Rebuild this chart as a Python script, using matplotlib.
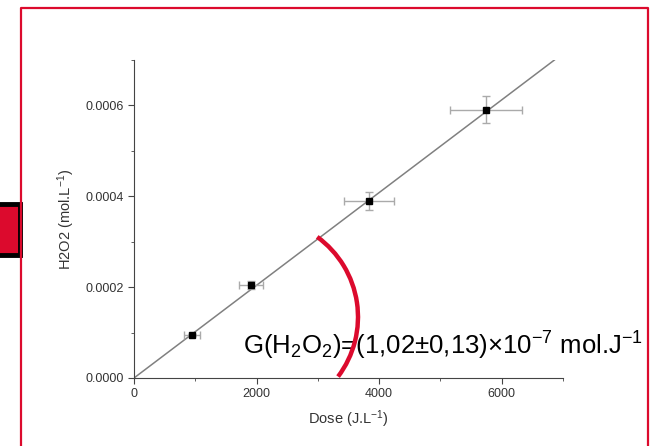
import matplotlib.pyplot as plt
from matplotlib.patches import Arc, Rectangle
from matplotlib.lines import Line2D
from matplotlib.transforms import IdentityTransform
from matplotlib.ticker import MultipleLocator

plt.rcParams["font.family"] = ["Liberation Sans", "DejaVu Sans"]
plt.rcParams["mathtext.fontset"] = "custom"
plt.rcParams["mathtext.rm"] = "Liberation Sans"
plt.rcParams["mathtext.default"] = "regular"

# data
dose = [950, 1910, 3830, 5740]
h2o2 = [0.0000948, 0.000205, 0.00039, 0.000591]
dose_err = [130, 200, 410, 590]
h2o2_err = [0.000003, 0.000008, 0.00002, 0.00003]
fit_x = [0, 6860]
fit_y = [0, 0.0007]

RED = "#dc0a2d"
W, H = 653, 446

fig = plt.figure(figsize=(W / 100, H / 100), dpi=100)
ax = fig.add_axes([134 / W, (H - 378) / H, (563 - 134) / W, (378 - 60) / H])

ax.plot(fit_x, fit_y, color="#808080", lw=1.1, zorder=2)
ax.errorbar(dose, h2o2, xerr=dose_err, yerr=h2o2_err, fmt="s", color="black",
            ms=4.5, ecolor="#aaaaaa", elinewidth=1, capsize=3, capthick=1, zorder=3)

ax.set_xlim(0, 7000)
ax.set_ylim(0, 0.0007)
ax.set_xticks([0, 2000, 4000, 6000])
ax.set_yticks([0, 0.0002, 0.0004, 0.0006])
ax.set_yticklabels(["0.0000", "0.0002", "0.0004", "0.0006"])
ax.xaxis.set_minor_locator(MultipleLocator(1000))
ax.yaxis.set_minor_locator(MultipleLocator(0.0001))
ax.spines["top"].set_visible(False)
ax.spines["right"].set_visible(False)
for s in ["left", "bottom"]:
    ax.spines[s].set_color("#444444")
ax.tick_params(which="both", direction="out", colors="#444444", labelsize=9,
               labelcolor="#333333")
ax.tick_params(which="major", length=4)
ax.tick_params(which="minor", length=2.5)
ax.set_xlabel("Dose (J.L$^{-1}$)", fontsize=10.5, color="#333333", labelpad=6)
ax.set_ylabel("H2O2 (mol.L$^{-1}$)", fontsize=10.5, color="#333333", labelpad=6)

# red frame
tr = IdentityTransform()
fig.add_artist(Line2D([21, 21, 648, 648], [0, H - 8, H - 8, 0], color=RED,
                      lw=1.6, transform=tr))
# small red box on the left
fig.add_artist(Rectangle((-5, H - 255), 25, 51, facecolor=RED, edgecolor="black",
                         lw=3.5, transform=tr))
# red arc
fig.add_artist(Arc((259, H - 317), 198, 198, theta1=-37, theta2=54, color=RED,
                   lw=3.2, transform=tr, zorder=5))

fig.text(243, H - 355, r"G(H$_2$O$_2$)=(1,02±0,13)×10$^{-7}$ mol.J$^{-1}$",
         fontsize=18.5, color="black", va="baseline", ha="left", transform=tr)

fig.savefig("out.png", dpi=100)
